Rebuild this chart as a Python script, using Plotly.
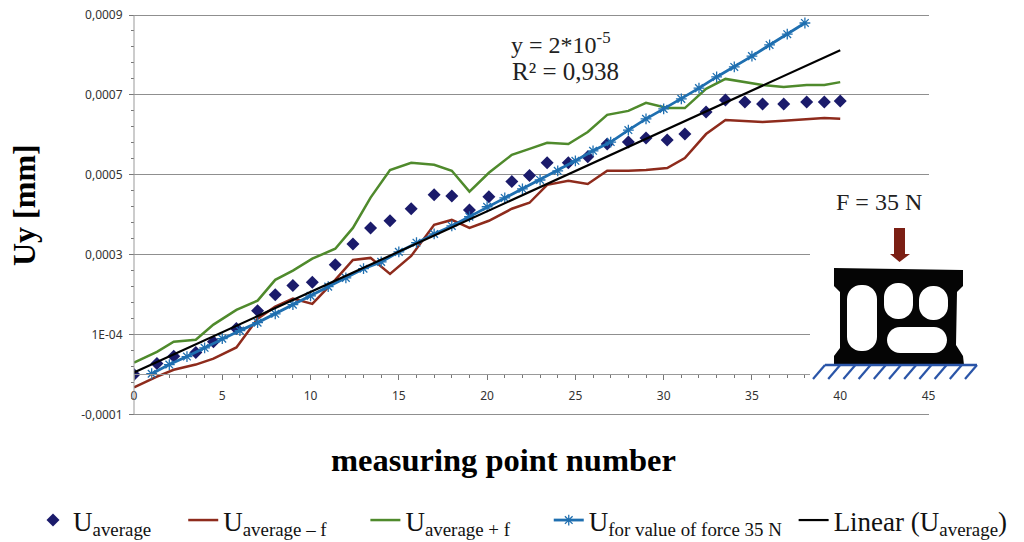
import plotly.graph_objects as go

W, H = 1024, 542

point_x = [0, 1.3, 2.25, 3.5, 4.5, 5.8, 7, 8, 9, 10.1, 11.4, 12.4, 13.4, 14.5, 15.7, 17, 18, 19, 20.1,
           21.4, 22.4, 23.4, 24.6, 25.7, 26.8, 28, 29, 30.2, 31.2, 32.4, 33.5, 34.6, 35.6, 36.8, 38.1, 39.1, 40]
u_average = [0, 27.5, 46, 55, 82, 115, 160, 200, 223, 231, 275, 327, 367, 385, 415, 450, 447, 412, 445,
             483, 498, 530, 530, 545, 577, 582, 592, 587, 602, 657, 687, 682, 677, 677, 682, 682, 685]
u_minus = [-32, -5, 12, 25, 40, 68, 140, 170, 190, 177, 237, 287, 292, 252, 297, 375, 387, 367, 385,
           415, 430, 475, 485, 477, 510, 510, 512, 517, 542, 602, 637, 635, 632, 635, 640, 642, 640]
u_plus = [30, 57, 82, 87, 125, 162, 185, 237, 260, 290, 315, 367, 443, 512, 530, 525, 510, 458, 505,
          550, 565, 580, 577, 607, 650, 660, 680, 667, 667, 715, 740, 732, 725, 720, 725, 725, 732]
force_x = list(range(1, 39))
u_force = [2, 25, 45, 67, 90, 110, 130, 152, 175, 197, 220, 242, 265, 282, 307, 330, 352, 372, 395, 420,
           442, 465, 487, 510, 535, 560, 582, 612, 640, 665, 690, 717, 745, 770, 797, 825, 852, 880]
trend_x = [0, 40]
trend_y = [5, 812]

x_ticks = [0, 5, 10, 15, 20, 25, 30, 35, 40, 45]
y_ticks = [-0.0001, 0.0001, 0.0003, 0.0005, 0.0007, 0.0009]
y_labels = ["-0,0001", "1E-04", "0,0003", "0,0005", "0,0007", "0,0009"]

scale = lambda vals: [v * 1e-6 for v in vals]
SERIF = "Liberation Serif"
SANS = "Noto Sans"
GAP = "\u00a0"


def px(x):
    return x / W


def py(y):
    return 1 - y / H


def path(points):
    out = []
    for cmd, *c in points:
        coords = " ".join(f"{px(c[i]):.5f},{py(c[i+1]):.5f}" for i in range(0, len(c), 2))
        out.append(f"{cmd} {coords}")
    return " ".join(out) + " Z"


def shape(points, color):
    return dict(type="path", xref="paper", yref="paper", path=path(points), fillcolor=color,
                line=dict(width=0), layer="above")


def pill(x0, y0, x1, y1, r):
    k = r * 0.45
    return [("M", x0 + r, y0), ("L", x1 - r, y0), ("C", x1 - k, y0, x1, y0 + k, x1, y0 + r),
            ("L", x1, y1 - r), ("C", x1, y1 - k, x1 - k, y1, x1 - r, y1), ("L", x0 + r, y1),
            ("C", x0 + k, y1, x0, y1 - k, x0, y1 - r), ("L", x0, y0 + r), ("C", x0, y0 + k, x0 + k, y0, x0 + r, y0)]


shapes = [
    dict(type="rect", xref="paper", yref="paper", x0=px(810), x1=px(1000), y0=py(381), y1=py(212),
         fillcolor="white", line=dict(width=0), layer="above"),
    shape([("M", 834, 268), ("L", 963, 270), ("L", 963, 286), ("L", 957, 292), ("L", 956, 345), ("L", 963, 356),
           ("L", 964, 365), ("L", 834, 365), ("L", 834, 356), ("L", 840, 348), ("L", 840, 292), ("L", 834, 286)], "#050505"),
    shape(pill(847, 285, 877, 351, 14), "white"),
    shape(pill(884, 283, 913, 319, 14), "white"),
    shape(pill(919, 286, 948, 320, 14), "white"),
    shape(pill(887, 327, 947, 353, 13), "white"),
    shape([("M", 894, 228), ("L", 905, 228), ("L", 905, 254), ("L", 910, 254), ("L", 899.5, 262),
           ("L", 890, 254), ("L", 894, 254)], "#7b1f14"),
    dict(type="line", xref="paper", yref="paper", x0=px(825), x1=px(977), y0=py(365), y1=py(365),
         line=dict(color="#2a55a8", width=2.5), layer="above"),
]
for i in range(11):
    x_top = 825 + i * 15.2
    shapes.append(dict(type="line", xref="paper", yref="paper", x0=px(x_top), x1=px(x_top - 12),
                       y0=py(365), y1=py(379), line=dict(color="#2a55a8", width=2.2), layer="above"))

fig = go.Figure()
fig.add_trace(go.Scatter(x=point_x, y=scale(u_average), mode="markers", name="U<sub>average</sub>" + GAP * 4,
                         marker=dict(symbol="diamond", size=10, color="#1b1b6b")))
fig.add_trace(go.Scatter(x=point_x, y=scale(u_minus), mode="lines", name="U<sub>average – f</sub>" + GAP * 5,
                         line=dict(color="#8e2b1c", width=2.5)))
fig.add_trace(go.Scatter(x=point_x, y=scale(u_plus), mode="lines", name="U<sub>average + f</sub>" + GAP * 5,
                         line=dict(color="#4f8a2c", width=2.5)))
fig.add_trace(go.Scatter(x=force_x, y=scale(u_force), mode="lines+markers", name="U<sub>for value of force 35 N</sub>" + GAP,
                         line=dict(color="#1f6fb0", width=2.8),
                         marker=dict(symbol="asterisk-open", size=9, line=dict(color="#2a7fc0", width=1.3))))
fig.add_trace(go.Scatter(x=trend_x, y=scale(trend_y), mode="lines", name="Linear (U<sub>average</sub>)",
                         line=dict(color="#000000", width=2.2)))

annotations = [
    dict(text="<b>Uy [mm]</b>", x=px(24), y=py(205), textangle=-90, font=dict(family=SERIF, size=32, color="black")),
    dict(text="<b>measuring point number</b>", x=px(503), y=py(460), font=dict(family=SERIF, size=32.5, color="black")),
    dict(text="y = 2*10<sup>-5</sup>", x=px(561), y=py(43), font=dict(family=SERIF, size=24, color="#222")),
    dict(text="R² = 0,938", x=px(565), y=py(72), font=dict(family=SERIF, size=25, color="#222")),
    dict(text="F = 35 N", x=px(879), y=py(202), font=dict(family=SERIF, size=24, color="#222")),
]
for a in annotations:
    a.update(xref="paper", yref="paper", showarrow=False, xanchor="center", yanchor="middle")

fig.update_layout(
    width=W, height=H, autosize=False,
    paper_bgcolor="white", plot_bgcolor="white",
    margin=dict(l=0, r=0, t=0, b=0, autoexpand=False),
    annotations=annotations, shapes=shapes,
    legend=dict(orientation="h", x=px(33), y=py(496), xanchor="left", yanchor="top",
                font=dict(family=SERIF, size=27, color="#111"), bgcolor="rgba(0,0,0,0)",
                itemwidth=30, tracegroupgap=0),
    xaxis=dict(domain=[px(134), px(928.5)], range=[0, 45], anchor="free", position=py(374), automargin=False,
               tickvals=x_ticks, ticks="outside", ticklen=5, tickcolor="#777", ticklabelstandoff=6,
               showgrid=False, zeroline=False, showline=True, linecolor="#999", linewidth=1,
               tickfont=dict(family=SANS, size=12, color="#333"),
               minor=dict(dtick=1, tick0=0, ticks="outside", ticklen=3, tickcolor="#777")),
    yaxis=dict(domain=[py(416.5), py(13)], range=[-0.000105, 0.000905], anchor="free", position=px(134), automargin=False,
               tickvals=y_ticks, ticktext=y_labels, ticks="outside", ticklen=5, tickcolor="#777", ticklabelstandoff=4,
               showgrid=True, gridcolor="#8f8f8f", gridwidth=1, zeroline=False,
               showline=False,
               tickfont=dict(family=SANS, size=12, color="#333"),
               minor=dict(dtick=0.00004, tick0=-0.0001, ticks="outside", ticklen=3, tickcolor="#777", showgrid=False)),
)
# the y-axis line runs only between the lowest and highest tick, as in the reference
fig.add_shape(type="line", xref="paper", yref="y", x0=px(134), x1=px(134), y0=y_ticks[0], y1=y_ticks[-1],
              line=dict(color="#999", width=1))

fig.write_html("out.html", config={"displayModeBar": False}, post_script="document.body.style.margin='0';")
